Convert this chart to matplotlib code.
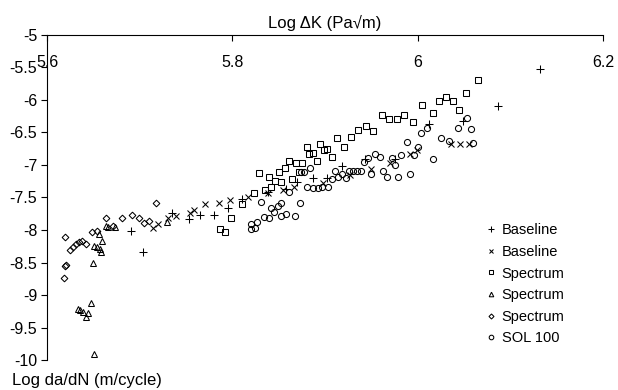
import matplotlib
matplotlib.use('Agg')
import matplotlib.pyplot as plt

plt.rcParams['font.family'] = ['Liberation Sans', 'DejaVu Sans']

# Baseline (+)
base1_x = [5.691, 5.704, 5.735, 5.753, 5.765, 5.780, 5.795, 5.810, 5.838, 5.858,
           5.870, 5.887, 5.902, 5.918, 5.943, 5.976, 6.012, 6.049, 6.087, 6.132]
base1_y = [-8.015, -8.331, -7.738, -7.831, -7.769, -7.765, -7.662, -7.528, -7.415, -7.369,
           -7.262, -7.205, -7.200, -7.015, -6.915, -6.912, -6.377, -6.323, -6.092, -5.528]

# Baseline (x)
base2_x = [5.714, 5.720, 5.731, 5.739, 5.754, 5.759, 5.771, 5.786, 5.797, 5.817, 5.838,
           5.855, 5.866, 5.898, 5.927, 5.950, 5.970, 5.992, 5.999, 6.036, 6.046, 6.055]
base2_y = [-7.974, -7.908, -7.820, -7.780, -7.743, -7.692, -7.600, -7.589, -7.538, -7.488, -7.431,
           -7.385, -7.338, -7.272, -7.154, -7.069, -6.969, -6.835, -6.777, -6.682, -6.682, -6.682]

# Spectrum (squares)
spec1_x = [5.787, 5.792, 5.799, 5.810, 5.823, 5.829, 5.835, 5.839, 5.842, 5.846, 5.850, 5.853,
           5.857, 5.861, 5.864, 5.869, 5.872, 5.875, 5.880, 5.883, 5.887, 5.891, 5.895, 5.899,
           5.902, 5.907, 5.913, 5.920, 5.928, 5.936, 5.944, 5.952, 5.961, 5.969, 5.978, 5.985,
           5.995, 6.005, 6.016, 6.023, 6.031, 6.038, 6.045, 6.052, 6.065]
spec1_y = [-7.989, -8.035, -7.811, -7.605, -7.435, -7.118, -7.385, -7.192, -7.346, -7.242, -7.103, -7.254,
           -7.042, -6.938, -7.211, -6.965, -7.105, -6.965, -6.718, -6.831, -6.815, -6.934, -6.680, -6.769,
           -6.757, -6.882, -6.582, -6.728, -6.577, -6.462, -6.395, -6.477, -6.238, -6.292, -6.292, -6.226,
           -6.335, -6.072, -6.195, -6.015, -5.958, -6.023, -6.149, -5.888, -5.692]

# Spectrum (triangles)
spec2_x = [5.651, 5.647, 5.633, 5.636, 5.639, 5.644, 5.642, 5.650, 5.651, 5.654, 5.657, 5.658,
           5.656, 5.659, 5.664, 5.666, 5.673, 5.729]
spec2_y = [-9.908, -9.118, -9.215, -9.231, -9.257, -9.282, -9.334, -8.508, -8.246, -8.269, -8.292, -8.346,
           -8.069, -8.169, -7.931, -7.954, -7.949, -7.882]

# Spectrum (diamonds)
spec3_x = [5.618, 5.619, 5.621, 5.619, 5.625, 5.628, 5.631, 5.635, 5.638, 5.642,
           5.648, 5.654, 5.664, 5.671, 5.681, 5.692, 5.699, 5.705, 5.710, 5.718]
spec3_y = [-8.743, -8.554, -8.546, -8.115, -8.315, -8.269, -8.223, -8.185, -8.162, -8.223,
           -8.038, -8.015, -7.823, -7.938, -7.808, -7.769, -7.823, -7.892, -7.854, -7.592]

# SOL 100 (circles)
sol_x = [5.820, 5.820, 5.824, 5.827, 5.831, 5.834, 5.839, 5.842, 5.845, 5.849, 5.853, 5.853,
         5.858, 5.861, 5.868, 5.873, 5.874, 5.877, 5.880, 5.884, 5.887, 5.892, 5.897, 5.903,
         5.907, 5.911, 5.914, 5.918, 5.923, 5.926, 5.930, 5.934, 5.939, 5.942, 5.946, 5.950,
         5.954, 5.959, 5.963, 5.967, 5.972, 5.976, 5.979, 5.982, 5.988, 5.992, 5.996, 6.000,
         6.004, 6.010, 6.016, 6.025, 6.034, 6.043, 6.053, 6.058, 6.060]
sol_y = [-7.908, -7.985, -7.974, -7.872, -7.574, -7.795, -7.820, -7.654, -7.718, -7.631, -7.589, -7.777,
         -7.758, -7.411, -7.785, -7.580, -7.115, -7.115, -7.334, -7.042, -7.354, -7.349, -7.343, -7.334,
         -7.211, -7.097, -7.180, -7.138, -7.205, -7.088, -7.088, -7.088, -7.088, -6.949, -6.897, -7.138,
         -6.835, -6.872, -7.089, -7.180, -6.885, -7.005, -7.192, -6.851, -6.651, -7.138, -6.842, -6.723,
         -6.503, -6.435, -6.908, -6.580, -6.631, -6.426, -6.282, -6.451, -6.666]

x_ticks = [5.6, 5.8, 6.0, 6.2]
x_tick_labels = ['5.6', '5.8', '6', '6.2']
y_ticks = [-5, -5.5, -6, -6.5, -7, -7.5, -8, -8.5, -9, -9.5, -10]
y_tick_labels = ['-5', '-5.5', '-6', '-6.5', '-7', '-7.5', '-8', '-8.5', '-9', '-9.5', '-10']

fig = plt.figure(figsize=(6.18, 3.9), dpi=100)
ax = fig.add_axes([0.0761, 0.0769, 0.8997, 0.8334])

ms = 4.4
kw = dict(linestyle='none', color='black', markerfacecolor='none', markeredgewidth=0.75, clip_on=False)
ax.plot(base1_x, base1_y, marker='+', markersize=5.2, label='Baseline', **kw)
ax.plot(base2_x, base2_y, marker='x', markersize=4.2, label='Baseline', **kw)
ax.plot(spec1_x, spec1_y, marker='s', markersize=ms, label='Spectrum', **kw)
ax.plot(spec2_x, spec2_y, marker='^', markersize=ms, label='Spectrum', **kw)
ax.plot(spec3_x, spec3_y, marker='D', markersize=3.4, label='Spectrum', **kw)
ax.plot(sol_x, sol_y, marker='o', markersize=ms, label='SOL 100', **kw)

ax.set_xlim(5.6, 6.2)
ax.set_ylim(-10, -5)
ax.set_xticks(x_ticks)
ax.set_xticklabels(x_tick_labels)
ax.set_yticks(y_ticks)
ax.set_yticklabels(y_tick_labels)

ax.spines['right'].set_visible(False)
ax.spines['bottom'].set_visible(False)
ax.spines['top'].set_linewidth(0.8)
ax.spines['left'].set_linewidth(0.8)

ax.tick_params(axis='x', top=True, bottom=False, labeltop=True, labelbottom=False,
               direction='in', length=4, width=0.8, pad=-25, labelsize=11.5)
ax.tick_params(axis='y', direction='out', length=4, width=0.8, pad=3, labelsize=11.5)

ax.xaxis.set_label_position('top')
ax.set_xlabel('Log ΔK (Pa√m)', fontsize=12, labelpad=5)
ax.set_ylabel('Log da/dN (m/cycle)', fontsize=12, rotation=0, ha='left', va='center')
ax.yaxis.set_label_coords(-0.063, -0.062)

ax.legend(loc='upper left', bbox_to_anchor=(0.773, 0.446), bbox_transform=fig.transFigure,
          frameon=False, fontsize=10.5, markerscale=0.75, handlelength=0.8,
          handletextpad=0.35, labelspacing=0.52, borderpad=0)

fig.savefig('out.png', dpi=100)
